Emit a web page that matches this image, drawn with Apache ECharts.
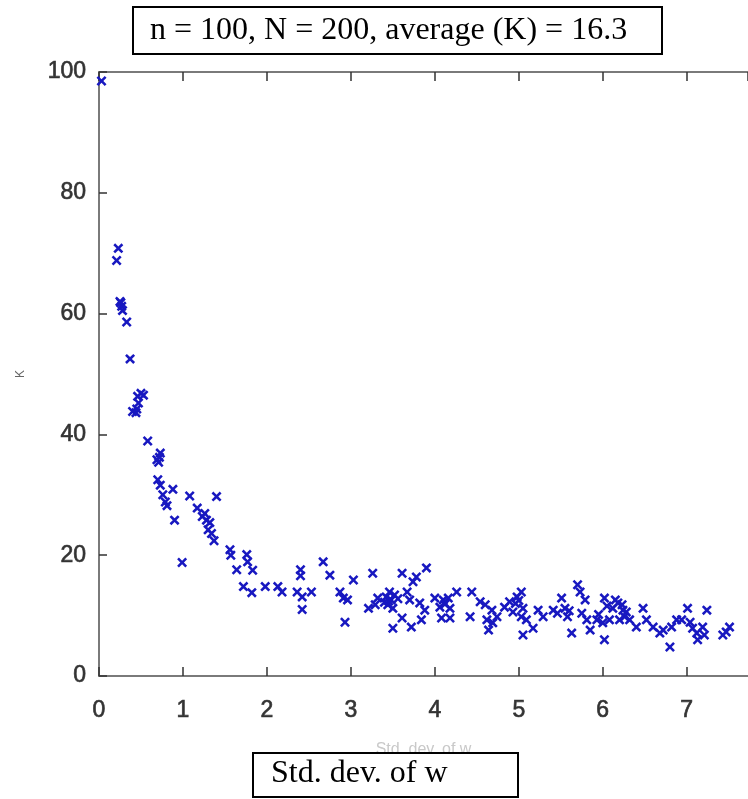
<!DOCTYPE html>
<html>
<head>
<meta charset="utf-8">
<script src="https://cdn.jsdelivr.net/npm/echarts@6/dist/echarts.min.js"></script>
<style>
html,body{margin:0;padding:0;background:#fff;}
#chart{width:748px;height:799px;}
</style>
</head>
<body>
<div id="chart"></div>
<script>
// ---- data ----
var titleText = 'n = 100, N = 200, average (K) = 16.3';
var xTitle = 'Std. dev. of w';
var yTitle = 'K';
var yTicks = [0, 20, 40, 60, 80, 100];
var xTicks = [0, 1, 2, 3, 4, 5, 6, 7];

var sdValues = [
  0.03, 0.23, 0.21, 0.25, 0.27, 0.28, 0.33, 0.37,
  0.40, 0.44, 0.46, 0.50, 0.53, 0.47, 0.58, 0.69, 0.73, 0.71,
  0.70, 0.73, 0.76, 0.79, 0.81, 0.88, 0.90, 0.99,
  1.08, 1.17, 1.23, 1.28, 1.32, 1.30, 1.34, 1.37, 1.40,
  1.56, 1.57, 1.64, 1.76, 1.77, 1.83, 1.72, 1.82,
  1.98, 2.13, 2.18, 2.36, 2.40, 2.40, 2.42, 2.42, 2.53,
  2.67, 2.75, 2.87, 2.91, 2.96, 2.93, 3.03, 3.21, 3.26, 3.29, 3.32, 3.42, 3.46, 3.48, 3.44, 3.50, 3.50,
  3.61, 3.61, 3.67, 3.70, 3.72, 3.74, 3.78, 3.82, 3.84, 3.90, 3.88, 4.00, 4.06, 4.10, 4.16, 4.18, 4.08, 4.18,
  4.26, 4.44, 4.42, 4.54, 4.60, 4.62, 4.64, 4.68, 4.74,
  4.69, 4.83, 4.89, 4.93, 4.98, 5.03, 5.05, 5.03, 5.09, 5.05, 5.17, 5.23, 5.29, 5.41, 5.46, 5.51, 5.55, 5.58, 5.63,
  5.70, 5.73, 5.79, 5.75, 5.81, 5.85, 5.93, 6.02, 6.00, 6.02, 6.08, 6.15, 6.23, 6.24, 6.26, 6.20, 6.32, 6.40,
  6.48, 6.52, 6.60, 6.68, 6.72, 6.80, 6.82, 6.88, 6.94, 7.01, 7.04, 7.07, 7.12, 7.13, 7.19, 7.24, 7.21,
  7.43, 7.51, 7.47,
  3.45, 3.52, 5.00, 5.95, 6.12, 6.18, 0.26, 0.45, 0.72, 1.26, 3.40, 3.56, 4.12, 4.96, 5.60, 6.05, 6.28
];
var kValues = [
  98.5, 70.8, 68.8, 62.0, 61.2, 60.5, 58.6, 52.5,
  43.8, 43.6, 46.3, 46.8, 46.5, 45.2, 38.9, 35.8, 36.9, 35.4,
  32.5, 31.6, 30.0, 28.8, 28.2, 30.9, 25.8, 18.8,
  29.8, 27.8, 26.4, 25.8, 25.4, 24.2, 23.6, 22.4, 29.7,
  20.9, 20.0, 17.6, 20.1, 18.9, 17.5, 14.8, 13.8,
  14.8, 14.8, 13.9, 13.9, 17.6, 16.6, 13.1, 11.0, 13.9,
  18.9, 16.7, 13.9, 12.9, 12.6, 8.9, 15.9, 11.2, 17.0, 11.8, 12.9, 13.1, 13.9, 12.6, 11.8, 11.2, 7.9,
  17.0, 9.6, 13.9, 12.6, 8.1, 15.6, 16.4, 12.1, 9.3, 17.9, 10.9, 12.9, 11.4, 12.6, 12.9, 11.2, 9.6, 9.6,
  13.9, 13.9, 9.8, 12.3, 11.8, 9.3, 7.6, 10.9, 9.8,
  8.8, 11.4, 12.3, 10.6, 13.1, 13.9, 11.2, 9.8, 9.3, 6.8, 7.9, 10.9, 9.8, 10.9, 10.4, 12.9, 11.2, 9.8, 7.1,
  15.1, 13.9, 12.6, 10.4, 9.3, 7.6, 9.3, 12.9, 8.8, 6.0, 9.3, 12.6, 11.8, 10.9, 9.8, 9.3, 9.3, 8.1,
  11.2, 9.3, 8.1, 7.1, 7.6, 4.8, 8.1, 9.3, 9.3, 11.2, 8.9, 7.9, 7.1, 6.0, 8.1, 10.9, 6.8,
  6.8, 8.1, 7.3,
  12.4, 13.4, 12.5, 10.2, 11.2, 12.1, 61.8, 44.2, 36.2, 26.9, 12.2, 12.8, 11.9, 12.0, 10.8, 11.6, 10.6
];

var points = sdValues.map(function (x, i) { return [x, kValues[i]]; });

var crossPath = 'path://M0,1.8L1.8,0L5,3.2L8.2,0L10,1.8L6.8,5L10,8.2L8.2,10L5,6.8L1.8,10L0,8.2L3.2,5Z';
var tickFont = "'Liberation Sans', Arial, sans-serif";
var serif = "'Liberation Serif', 'Times New Roman', serif";

var chart = echarts.init(document.getElementById('chart'), null, {renderer: 'canvas'});
chart.setOption({
  backgroundColor: '#ffffff',
  animation: false,
  grid: {left: 99, right: 0, top: 72, bottom: 123},
  xAxis: [{
    type: 'value', min: 0, max: 7.73, interval: 1, position: 'bottom',
    name: xTitle, nameLocation: 'middle', nameGap: 66,
    nameTextStyle: {color: '#c9c9c9', fontSize: 16, fontFamily: tickFont},
    axisLine: {show: true, lineStyle: {color: '#7a7a7a', width: 2}},
    axisTick: {show: true, inside: true, length: 9, lineStyle: {color: '#333', width: 1.5}},
    axisLabel: {margin: 23, color: '#333', fontSize: 23, fontFamily: tickFont, showMaxLabel: false,
      textBorderColor: '#444', textBorderWidth: 0.7,
      formatter: function (v) { return xTicks.indexOf(v) >= 0 ? String(v) : ''; }},
    splitLine: {show: false}
  }, {
    type: 'value', min: 0, max: 7.73, interval: 1, position: 'top',
    axisLine: {show: true, lineStyle: {color: '#7a7a7a', width: 2}},
    axisTick: {show: true, inside: true, length: 9, lineStyle: {color: '#333', width: 1.5}},
    axisLabel: {show: false},
    splitLine: {show: false}
  }],
  yAxis: {
    type: 'value', min: 0, max: 100, interval: 20,
    name: yTitle, nameLocation: 'middle', nameGap: 72,
    nameTextStyle: {color: '#666', fontSize: 12, fontFamily: tickFont},
    axisLine: {show: true, lineStyle: {color: '#7a7a7a', width: 2}},
    axisTick: {show: true, inside: true, length: 8, lineStyle: {color: '#333', width: 1.5}},
    axisLabel: {margin: 13, color: '#333', fontSize: 23, fontFamily: tickFont,
      textBorderColor: '#444', textBorderWidth: 0.7,
      formatter: function (v) { return yTicks.indexOf(v) >= 0 ? String(v) : ''; }},
    splitLine: {show: false}
  },
  series: [{
    type: 'scatter',
    xAxisIndex: 0,
    data: points,
    symbol: crossPath,
    symbolSize: 10,
    itemStyle: {color: '#1818c0', opacity: 1},
    clip: false,
    z: 3
  }],
  graphic: [
    {type: 'rect', z: 100, shape: {x: 133, y: 7, width: 529, height: 47},
      style: {fill: '#fff', stroke: '#000', lineWidth: 2}},
    {type: 'text', z: 101, x: 150, y: 31,
      style: {text: titleText, font: '32px ' + serif, fill: '#000', textVerticalAlign: 'middle', verticalAlign: 'middle'}},
    {type: 'rect', z: 100, shape: {x: 253, y: 753, width: 265, height: 44},
      style: {fill: '#fff', stroke: '#000', lineWidth: 2}},
    {type: 'text', z: 101, x: 271, y: 774,
      style: {text: xTitle, font: '32px ' + serif, fill: '#000', textVerticalAlign: 'middle', verticalAlign: 'middle'}}
  ]
});
</script>
</body>
</html>
